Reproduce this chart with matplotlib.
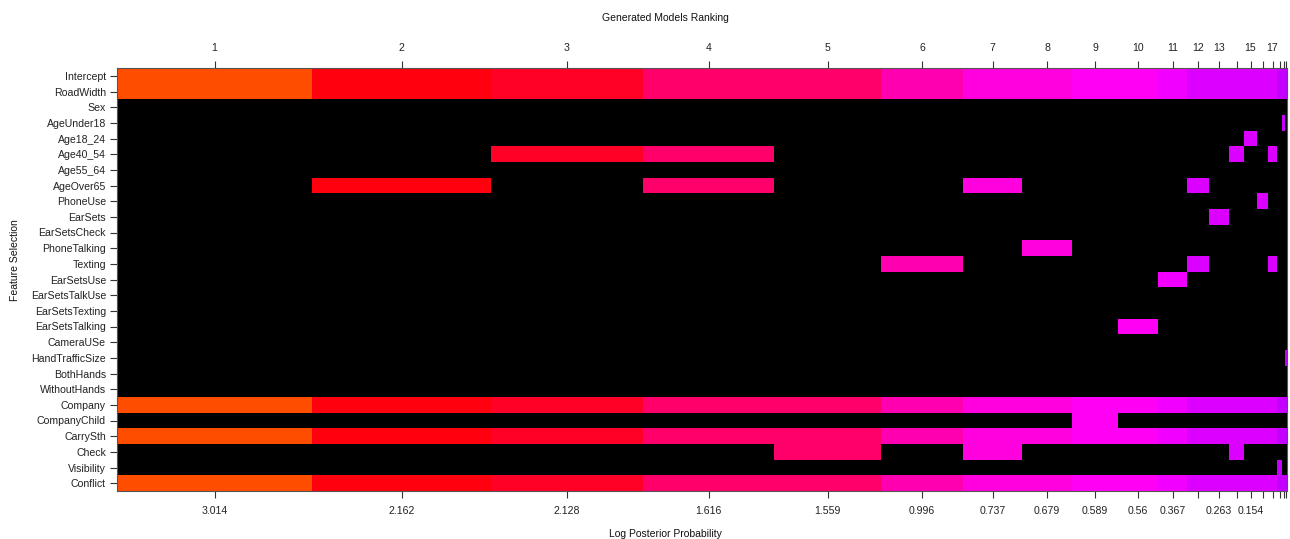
import numpy as np
import matplotlib
matplotlib.use("Agg")
import matplotlib.pyplot as plt
from matplotlib.colors import ListedColormap, hsv_to_rgb

plt.rcParams["font.family"] = ["Liberation Sans", "DejaVu Sans"]

# Candidate predictors, listed top to bottom
features = [
    "Intercept", "RoadWidth", "Sex", "AgeUnder18", "Age18_24", "Age40_54",
    "Age55_64", "AgeOver65", "PhoneUse", "EarSets", "EarSetsCheck",
    "PhoneTalking", "Texting", "EarSetsUse", "EarSetsTalkUse", "EarSetsTexting",
    "EarSetsTalking", "CameraUSe", "HandTrafficSize", "BothHands",
    "WithoutHands", "Company", "CompanyChild", "CarrySth", "Check",
    "Visibility", "Conflict",
]

# Top 20 models by rank
model_rank = list(range(1, 21))
log_post = [3.014, 2.162, 2.128, 1.616, 1.559, 0.996, 0.737, 0.679, 0.589,
            0.56, 0.367, 0.27, 0.263, 0.2, 0.154, 0.13, 0.11, 0.08, 0.04, 0.0]
model_weight = [195, 179, 152, 131, 107, 82, 59, 50, 46, 40, 29, 22, 20,
                15, 13, 11, 9, 5, 3, 2]

# Terms present in every model, plus the extra terms of each model
always_in = ["Intercept", "RoadWidth", "Company", "CarrySth", "Conflict"]
extra_terms = [
    [], ["AgeOver65"], ["Age40_54"], ["Age40_54", "AgeOver65"], ["Check"],
    ["Texting"], ["AgeOver65", "Check"], ["PhoneTalking"], ["CompanyChild"],
    ["EarSetsTalking"], ["EarSetsUse"], ["AgeOver65", "Texting"], ["EarSets"],
    ["Age40_54", "Check"], ["Age18_24"], ["PhoneUse"], ["Age40_54", "Texting"],
    ["Visibility"], ["AgeUnder18"], ["HandTrafficSize"],
]

# Which tick labels are printed on each axis
top_labelled = [1, 2, 3, 4, 5, 6, 7, 8, 9, 10, 11, 12, 13, 15, 17]
bottom_labelled = [1, 2, 3, 4, 5, 6, 7, 8, 9, 10, 11, 13, 15]

offset = 0.75
n_feat = len(features)
n_mod = len(model_rank)

# Inclusion matrix scaled by model score
z = np.zeros((n_feat, n_mod))
for j in range(n_mod):
    for name in always_in + extra_terms[j]:
        z[features.index(name), j] = log_post[j] + offset

# Rainbow palette (hue 0.75 -> 1.05) with black for excluded terms
n_col = n_mod + 1
hues = np.linspace(0.75, 1.05, n_col) % 1.0
rainbow = hsv_to_rgb(np.column_stack([hues, np.ones(n_col), np.ones(n_col)]))
cmap = ListedColormap(np.vstack([[0, 0, 0], rainbow]))
bins = np.linspace(0, z.max(), n_col + 2)
idx = np.clip(np.digitize(z, bins) - 1, 0, n_col)

x_edges = np.concatenate([[0], np.cumsum(model_weight)])
centers = (x_edges[:-1] + x_edges[1:]) / 2
y_edges = np.arange(n_feat + 1) - 0.5

fig = plt.figure(figsize=(12.9, 5.39), dpi=100)
ax = fig.add_axes([117 / 1290, 1 - 491 / 539, 1170 / 1290, 423 / 539])
ax.pcolormesh(x_edges, y_edges, idx, cmap=cmap, vmin=-0.5, vmax=n_col + 0.5,
              shading="flat")
ax.set_xlim(x_edges[0], x_edges[-1])
ax.set_ylim(n_feat - 0.5, -0.5)

tick_col = "#333333"
lab_size = 7.6
ax.set_yticks(np.arange(n_feat))
ax.set_yticklabels(features, fontsize=lab_size, color="#222222")
ax.set_xticks(centers)
ax.set_xticklabels([f"{v:g}" if r in bottom_labelled else ""
                    for r, v in zip(model_rank, log_post)],
                   fontsize=lab_size, color="#222222")
ax.tick_params(axis="both", direction="out", length=5, width=0.8,
               color=tick_col, pad=3)
ax.tick_params(axis="x", pad=6)

top = ax.secondary_xaxis("top")
top.set_xticks(centers)
top.set_xticklabels([str(r) if r in top_labelled else "" for r in model_rank],
                    fontsize=lab_size, color="#222222")
top.tick_params(direction="out", length=5, width=0.8, color=tick_col, pad=6)
for s in top.spines.values():
    s.set_visible(False)

for s in ax.spines.values():
    s.set_color("#555555")
    s.set_linewidth(0.8)

fig.text(665 / 1290, 1 - 18 / 539, "Generated Models Ranking", ha="center",
         va="center", fontsize=7.5, color="#111111")
fig.text(665 / 1290, 1 - 534 / 539, "Log Posterior Probability", ha="center",
         va="center", fontsize=7.5, color="#111111")
fig.text(15 / 1290, 1 - 260 / 539, "Feature Selection", ha="center",
         va="center", rotation=90, fontsize=7.5, color="#111111")

fig.savefig("out.png", dpi=100, facecolor="white")
